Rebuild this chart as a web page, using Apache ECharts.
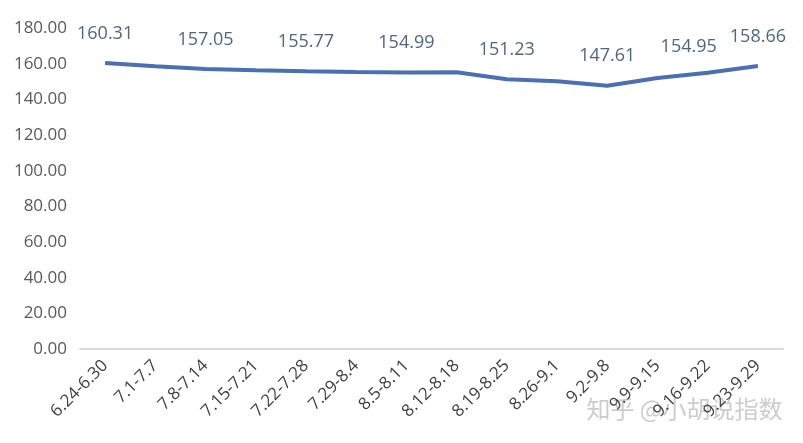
<!DOCTYPE html>
<html>
<head>
<meta charset="utf-8">
<script src="https://cdn.jsdelivr.net/npm/echarts@6/dist/echarts.min.js"></script>
<style>html,body{margin:0;padding:0;background:#fff;}#c{width:803px;height:443px;}</style>
</head>
<body>
<div id="c"></div>
<script>
const categories = ['6.24-6.30','7.1-7.7','7.8-7.14','7.15-7.21','7.22-7.28','7.29-8.4','8.5-8.11','8.12-8.18','8.19-8.25','8.26-9.1','9.2-9.8','9.9-9.15','9.16-9.22','9.23-9.29'];
const values = [160.31, 158.6, 157.05, 156.3, 155.77, 155.3, 154.99, 155.2, 151.23, 150.2, 147.61, 152.0, 154.95, 158.66];
const labelledIndices = [0, 2, 4, 6, 8, 10, 12, 13];
const yTicks = {min: 0, max: 180, interval: 20};

const seriesData = values.map((v, i) => {
  const item = {value: v};
  if (labelledIndices.includes(i)) {
    item.label = {show: true};
    if (i === 12) item.label.offset = [-19, 4];
  }
  return item;
});

const chart = echarts.init(document.getElementById('c'));
chart.setOption({
  animation: false,
  backgroundColor: '#ffffff',
  textStyle: {fontFamily: 'Open Sans'},
  grid: {left: 80, right: 20, top: 28, bottom: 94},
  xAxis: {
    type: 'category',
    data: categories,
    boundaryGap: true,
    axisLine: {show: true, lineStyle: {color: '#d9d9d9', width: 2}},
    axisTick: {show: false},
    axisLabel: {rotate: 45, interval: 0, margin: 14, fontSize: 17, color: '#404040', fontFamily: 'Open Sans'}
  },
  yAxis: {
    type: 'value',
    min: yTicks.min, max: yTicks.max, interval: yTicks.interval,
    axisLine: {show: false},
    axisTick: {show: false},
    splitLine: {show: false},
    axisLabel: {fontSize: 17, color: '#595959', margin: 13, fontFamily: 'Open Sans', formatter: v => v.toFixed(2)}
  },
  series: [{
    type: 'line',
    data: seriesData,
    symbol: 'circle',
    symbolSize: 1,
    showSymbol: true,
    itemStyle: {color: 'rgba(0,0,0,0)', borderWidth: 0},
    lineStyle: {color: '#4a6fb3', width: 4},
    label: {show: false, position: 'top', distance: 20, fontSize: 18, color: '#50667f', fontFamily: 'Open Sans', formatter: p => p.value.toFixed(2)}
  }],
  graphic: [{
    type: 'text', right: 20, top: 396,
    style: {text: '知乎 @小胡说指数', font: '24px "Noto Sans CJK SC"', fill: 'rgba(195,195,195,0.85)', stroke: 'rgba(255,255,255,0.6)', lineWidth: 1}
  }]
});
</script>
</body>
</html>
